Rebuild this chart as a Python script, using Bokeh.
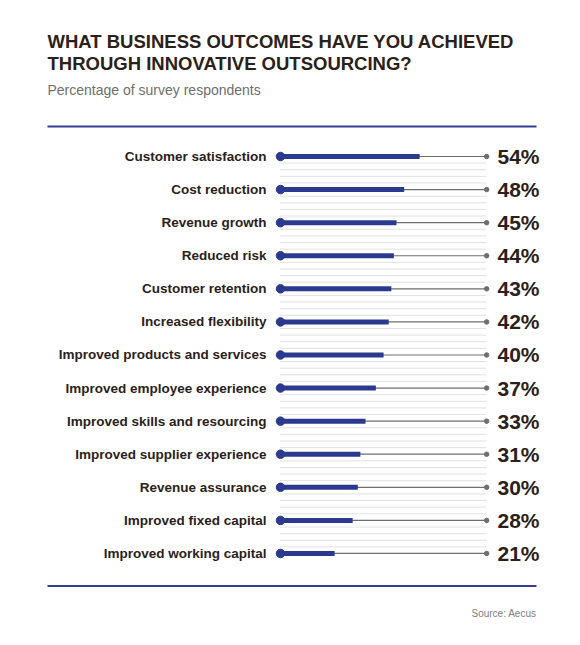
from bokeh.plotting import figure
from bokeh.models import Range1d, Label, ColumnDataSource
from bokeh.core.properties import value
from bokeh.embed import file_html
from bokeh.resources import INLINE

# ---------------- data ----------------
categories = [
    "Customer satisfaction",
    "Cost reduction",
    "Revenue growth",
    "Reduced risk",
    "Customer retention",
    "Increased flexibility",
    "Improved products and services",
    "Improved employee experience",
    "Improved skills and resourcing",
    "Improved supplier experience",
    "Revenue assurance",
    "Improved fixed capital",
    "Improved working capital",
]
percentages = [54, 48, 45, 44, 43, 42, 40, 37, 33, 31, 30, 28, 21]
value_labels = [f"{v}%" for v in percentages]
track_max = 80

title_lines = ["WHAT BUSINESS OUTCOMES HAVE YOU ACHIEVED",
               "THROUGH INNOVATIVE OUTSOURCING?"]
subtitle = "Percentage of survey respondents"
source_note = "Source: Aecus"

# ---------------- layout ----------------
W, H = 564, 629
ZERO_X = 280.0        # px of value 0
PX_PER_PCT = 2.577
ROW0_Y = 156.0        # px of first row
ROW_STEP = 33.08

def dx(px):
    return (px - ZERO_X) / PX_PER_PCT

def dy(py):
    return (py - ROW0_Y) / ROW_STEP

BLUE = "#2b3a8e"
DARK = "#2a211b"
GRAY = "#6e6e6e"
SANS = "Liberation Sans"

p = figure(width=W, height=H, output_backend="svg", toolbar_location=None,
           x_range=Range1d(dx(0), dx(W)), y_range=Range1d(dy(H), dy(0)),
           min_border=0, outline_line_color=None, tools="")
p.axis.visible = False
p.grid.visible = False
p.background_fill_color = "white"
p.border_fill_color = "white"

n = len(categories)
rows = list(range(n))

# dotted separators between rows
dot_y = [i + k / 5 for i in range(n - 1) for k in range(1, 5)]
p.segment(x0=0, x1=track_max, y0=dot_y, y1=dot_y, line_color="#c2c2c2",
          line_width=1, line_dash="1 1")

src = ColumnDataSource(dict(y=rows, v=percentages, cat=categories, lab=value_labels,
                            zero=[0] * n, tmax=[track_max] * n))

# grey track
p.segment(x0="zero", x1="tmax", y0="y", y1="y", source=src, line_color=GRAY, line_width=1.2)
p.scatter(x="tmax", y="y", source=src, size=4.5, color=GRAY)
# bar
p.segment(x0="zero", x1="v", y0="y", y1="y", source=src, line_color=BLUE, line_width=5)
p.scatter(x="zero", y="y", source=src, size=8.5, color=BLUE)

# category labels
p.text(x=dx(266), y="y", text="cat", source=src, text_align="right", text_baseline="middle",
       text_font=value(SANS), text_font_style="bold", text_font_size="13.5px", text_color=DARK)
# percentage labels
p.text(x=dx(497), y="y", text="lab", source=src, text_align="left", text_baseline="middle",
       text_font=value(SANS), text_font_style="bold", text_font_size="21px", text_color=DARK)

# title, subtitle, source
for j, line in enumerate(title_lines):
    p.add_layout(Label(x=dx(47), y=dy(41 + 22 * j), text=line, text_font=SANS,
                       text_font_style="bold", text_font_size="18.5px", text_color=DARK,
                       text_baseline="alphabetic"))
p.add_layout(Label(x=dx(47), y=dy(89), text=subtitle, text_font=SANS,
                   text_font_size="14px", text_color=GRAY, text_baseline="alphabetic"))
p.add_layout(Label(x=dx(536), y=dy(613), text=source_note, text_font=SANS,
                   text_font_size="10px", text_color="#808080", text_align="right",
                   text_baseline="middle"))

# rules
for ry in (126, 585.5):
    p.segment(x0=[dx(47)], x1=[dx(536)], y0=[dy(ry)], y1=[dy(ry)], line_color="#33408f", line_width=2)

open("out.html", "w").write(file_html(p, INLINE))
